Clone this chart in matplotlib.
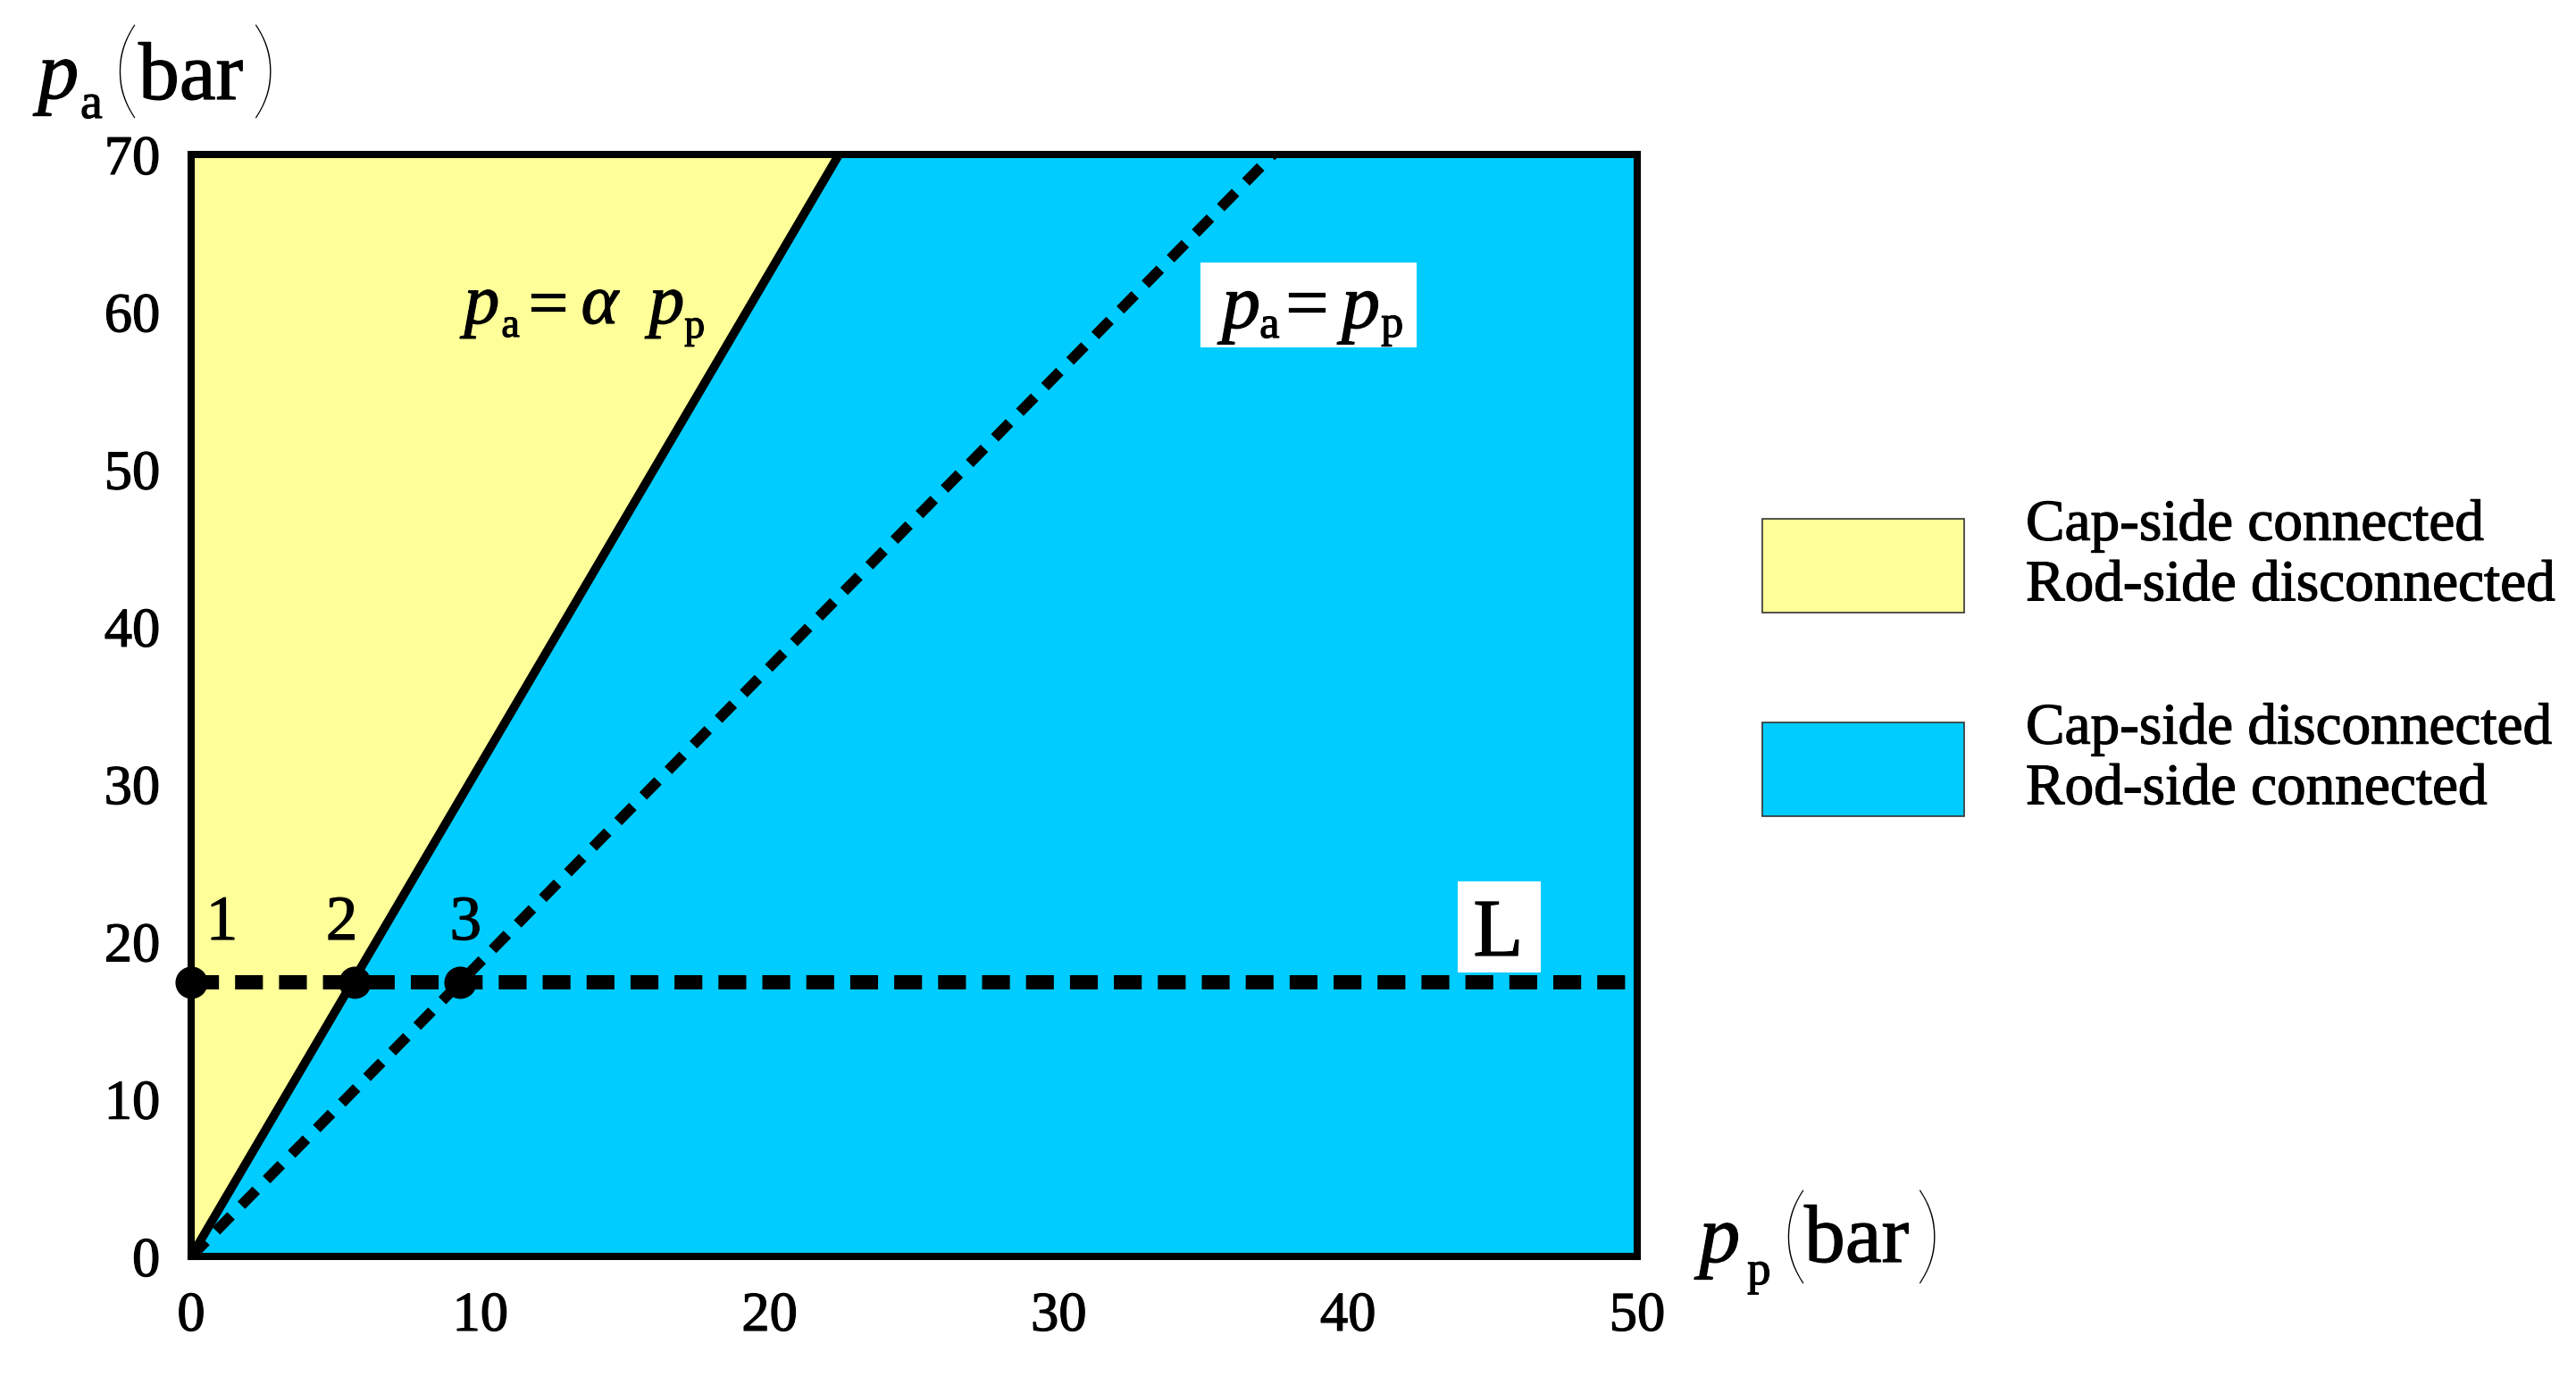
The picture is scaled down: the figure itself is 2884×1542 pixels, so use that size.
import matplotlib
matplotlib.use("Agg")
import matplotlib.pyplot as plt
from matplotlib.patches import Rectangle
from matplotlib.textpath import TextPath
from matplotlib.font_manager import FontProperties
import matplotlib.patheffects as pe

plt.rcParams['font.family'] = ['Liberation Serif', 'DejaVu Serif']

# ---- data ----
pa_range = [0, 70]               # p_a extent of the boundary lines
pp_alpha_line = [0, 22.4]        # p_a = alpha p_p boundary (solid)
pp_equal_line = [0, 37.4]        # p_a = p_p (dashed)
L_level = 17.4                   # horizontal load line L
point_pp = [0, 5.64, 9.3]        # points 1, 2, 3
point_pa = [17.4, 17.4, 17.4]
point_labels = ['1', '2', '3']
x_ticks = [0, 10, 20, 30, 40, 50]
y_ticks = [0, 10, 20, 30, 40, 50, 60, 70]
legend_labels = ['Cap-side connected\nRod-side disconnected',
                 'Cap-side disconnected\nRod-side connected']
yellow = '#FFFF99'
blue = '#00CCFF'

W, H, DPI = 2884, 1542, 100
fig = plt.figure(figsize=(W / DPI, H / DPI), dpi=DPI)
ax = fig.add_axes([214 / W, (H - 1407) / H, 1619 / W, 1234 / H])
ax.set_xlim(0, 50)
ax.set_ylim(0, 70)

heavy = [pe.withStroke(linewidth=0.9, foreground='black')]

# regions
ax.fill_betweenx(pa_range, [0, 0], pp_alpha_line, color=yellow, lw=0, zorder=1)
ax.fill_betweenx(pa_range, pp_alpha_line, [50, 50], color=blue, lw=0, zorder=1)

# lines
ax.plot(pp_alpha_line, pa_range, color='black', lw=7, solid_capstyle='butt', zorder=3)
ax.plot(pp_equal_line, pa_range, color='black', lw=8.5, linestyle=(0, (2.0, 1.4)),
        dash_capstyle='butt', zorder=3)
ax.plot([0, 50], [L_level, L_level], color='black', lw=11.5, linestyle=(0, (1.95, 1.13)),
        dash_capstyle='butt', zorder=3)
ax.plot(point_pp, point_pa, 'o', color='black', markersize=25, zorder=5, clip_on=False)

# axes styling
for s in ax.spines.values():
    s.set_linewidth(5.8)
    s.set_zorder(4)
ax.set_xticks(x_ticks)
ax.set_yticks(y_ticks)
ax.tick_params(length=0, labelsize=45)
ax.tick_params(axis='x', pad=28)
ax.tick_params(axis='y', pad=25)
for lbl in ax.get_xticklabels() + ax.get_yticklabels():
    lbl.set_path_effects(heavy)


# ---- text helpers (pixel layout, glyph-bound aware) ----
def fprop(size, style='normal', family='Liberation Serif', weight='normal'):
    return FontProperties(family=family, style=style, size=size, weight=weight)


def ext_px(s, fp):
    e = TextPath((0, 0), s, prop=fp).get_extents()
    k = DPI / 72.0
    return e.x0 * k, e.y0 * k, e.x1 * k, e.y1 * k


def put(s, left, baseline, fp, effects=True):
    x0, _, _, _ = ext_px(s, fp)
    t = fig.text((left - x0) / W, 1 - baseline / H, s, fontproperties=fp,
                 ha='left', va='baseline')
    if effects:
        t.set_path_effects(heavy)
    return t


def put_paren(s, left, top, bottom):
    fp = fprop(100, family='Lato', weight=200)
    _, y0, _, y1 = ext_px(s, fp)
    fp = fprop(100 * (bottom - top) / (y1 - y0), family='Lato', weight=200)
    x0, y0, x1, y1 = ext_px(s, fp)
    put(s, left, top + y1, fp, effects=False)


def put_centered_v(s, left, vcenter, fp):
    _, y0, _, y1 = ext_px(s, fp)
    put(s, left, vcenter + (y1 + y0) / 2, fp)


# axis labels
put('p', 37, 110, fprop(66, 'italic'))
put('a', 92, 132, fprop(40))
put_paren('(', 133, 28, 133)
put('bar', 155, 111, fprop(66))
put_paren(')', 285, 28, 133)

put('p', 1897, 1413, fprop(66, 'italic'))
put('p', 1957, 1438, fprop(38))
put_paren('(', 2001, 1333, 1438)
put('bar', 2020, 1413, fprop(66))
put_paren(')', 2148, 1333, 1438)

# equation p_a = alpha p_p (on yellow)
put('p', 515, 362, fprop(57, 'italic'))
put('a', 563, 377, fprop(33))
put_centered_v('=', 595, 338.5, fprop(57))
put('\u03b1', 653, 362, fprop(57, 'italic'))
put('p', 722, 362, fprop(57, 'italic'))
put('p', 767, 378, fprop(33))

# equation p_a = p_p (white box)
fig.add_artist(Rectangle((1344 / W, 1 - 389 / H), 242 / W, 95 / H,
                         transform=fig.transFigure, fc='white', ec='none'))
put('p', 1363, 367, fprop(62, 'italic'))
put('a', 1412, 378, fprop(36))
put_centered_v('=', 1443, 338.5, fprop(62))
put('p', 1497, 367, fprop(62, 'italic'))
put('p', 1547, 377, fprop(36))

# L label (white box)
fig.add_artist(Rectangle((1632 / W, 1 - 1089 / H), 93 / W, 102 / H,
                         transform=fig.transFigure, fc='white', ec='none'))
put('L', 1652, 1070, fprop(66))

# point numbers
for lab, left in zip(point_labels, [237, 368, 507]):
    put(lab, left, 1052, fprop(51))

# legend
box_x0, box_w, box_h = 1973 / W, 226 / W, 105 / H
box_y0 = [(H - 686) / H, (H - 914) / H]
for y0, col, lab in zip(box_y0, [yellow, blue], legend_labels):
    fig.add_artist(Rectangle((box_x0, y0), box_w, box_h, transform=fig.transFigure,
                             fc=col, ec='#333333', lw=1.2))
    t = fig.text(2268 / W, y0 + box_h / 2 + 11 / H, lab, fontsize=47, ha='left',
                 va='center', linespacing=1.18)
    t.set_path_effects(heavy)

fig.savefig('out.png', dpi=DPI)
